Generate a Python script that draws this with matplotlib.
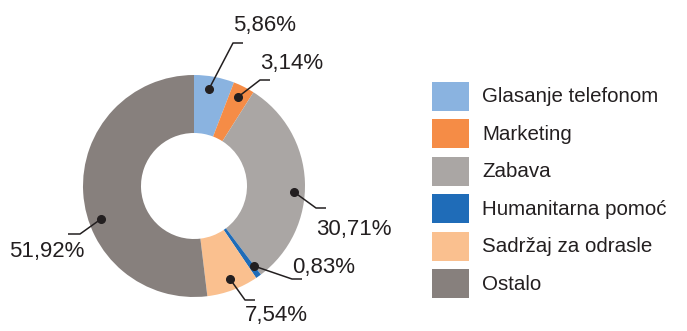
import matplotlib
matplotlib.use("Agg")
import matplotlib.pyplot as plt
from matplotlib.patches import Rectangle

categories = ["Glasanje telefonom", "Marketing", "Zabava",
              "Humanitarna pomoć", "Sadržaj za odrasle", "Ostalo"]
shares = [5.86, 3.14, 30.71, 0.83, 7.54, 51.92]
value_labels = ["5,86%", "3,14%", "30,71%", "0,83%", "7,54%", "51,92%"]
colors = ["#8AB3E0", "#F58C46", "#AAA6A4", "#1F6CB8", "#FAC08F", "#87807D"]

W, H = 687, 331
plt.rcParams["font.family"] = ["Liberation Sans", "DejaVu Sans"]
text_color = "#231f20"

fig = plt.figure(figsize=(W / 100, H / 100), dpi=100)
ax = fig.add_axes([0, 0, 1, 1])


def py(y):
    # convert top-down pixel row to axis y
    return H - y


cx, cy, R = 194, 186, 111
ax.pie(shares, colors=colors, startangle=90, counterclock=False,
       center=(cx, py(cy)), radius=R,
       wedgeprops=dict(width=58, linewidth=0), frame=True)
ax.set_xlim(0, W)
ax.set_ylim(0, H)
ax.set_aspect("equal")
ax.axis("off")

# leader lines: dot, elbow, end of horizontal tick, text anchor
leaders = [
    ((209, 89), (233, 43), (243, 43), (233, 25)),
    ((238, 97), (260, 80), (270, 80), (260, 63)),
    ((294, 192), (316, 208), (326, 208), (316, 229)),
    ((254, 266), (292, 279), (302, 279), (292, 267)),
    ((230, 279), (245, 300), (255, 300), (245, 316)),
    ((101, 219), (80, 234), (68, 234), (9, 252)),
]
for (dot, elbow, tick, tpos), lab in zip(leaders, value_labels):
    ax.plot([dot[0], elbow[0], tick[0]], [py(dot[1]), py(elbow[1]), py(tick[1])],
            color=text_color, lw=1.1, solid_capstyle="butt")
    ax.plot(dot[0], py(dot[1]), "o", color=text_color, ms=5.5)
    ax.text(tpos[0], py(tpos[1]), lab, ha="left", va="center", fontsize=16,
            color=text_color)

# legend
lx, ly0, step = 432, 82, 37.4
for i, (name, c) in enumerate(zip(categories, colors)):
    top = ly0 + i * step
    ax.add_patch(Rectangle((lx, py(top + 29)), 37, 29, facecolor=c,
                           edgecolor="none"))
    ax.text(482, py(top + 15), name, ha="left", va="center",
            fontsize=14.8, color=text_color)

fig.savefig("out.png", dpi=100)
